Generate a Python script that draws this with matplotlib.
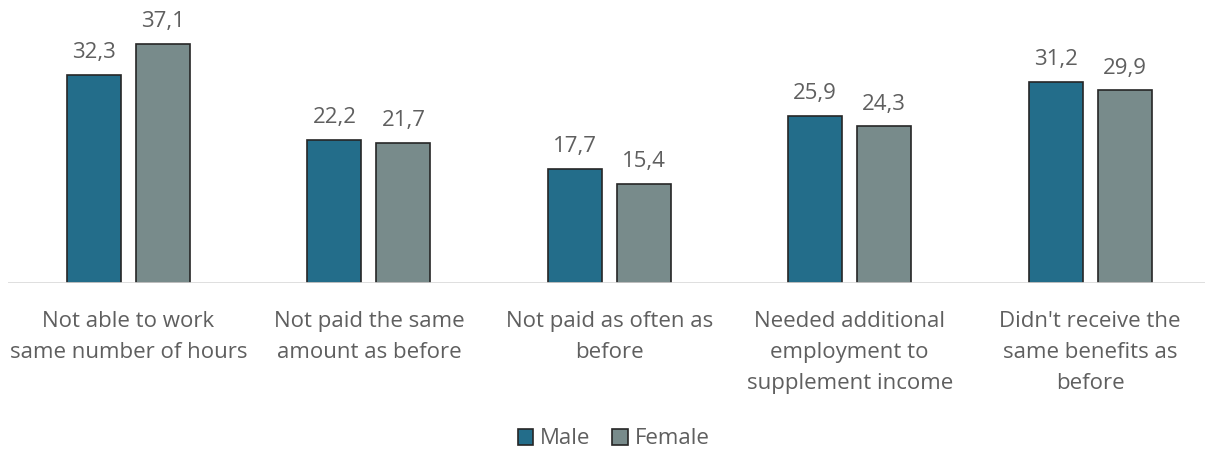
import matplotlib
matplotlib.use("Agg")
import matplotlib.pyplot as plt
import numpy as np

categories = ["Not able to work\nsame number of hours",
              "Not paid the same\namount as before",
              "Not paid as often as\nbefore",
              "Needed additional\nemployment to\nsupplement income",
              "Didn't receive the\nsame benefits as\nbefore"]
male = [32.3, 22.2, 17.7, 25.9, 31.2]
female = [37.1, 21.7, 15.4, 24.3, 29.9]
series_names = ["Male", "Female"]

plt.rcParams['font.family'] = ['Open Sans', 'DejaVu Sans']
txt = '#5f5f5f'
c_male = '#236D8A'
c_female = '#788B8B'

fig = plt.figure(figsize=(12.05, 4.5), dpi=100)
W, H = 1205, 450
ax = fig.add_axes([8.3 / W, (H - 283) / H, 1202 / W, 258 / H])

x = np.arange(len(categories))
bw = 54 / 240.4
gap = 15 / 240.4
off = (bw + gap) / 2
b1 = ax.bar(x - off, male, bw, color=c_male, edgecolor='#262626', linewidth=1.2, label=series_names[0], zorder=3)
b2 = ax.bar(x + off, female, bw, color=c_female, edgecolor='#262626', linewidth=1.2, label=series_names[1], zorder=3)
for bars, vals in ((b1, male), (b2, female)):
    for r, v in zip(bars, vals):
        ax.text(r.get_x() + r.get_width() / 2, v + 1.8, f"{v:.1f}".replace('.', ','),
                ha='center', va='bottom', fontsize=16, color=txt)

ax.set_xlim(-0.5, len(categories) - 0.5)
ax.set_ylim(0, 40)
ax.axhline(0, color='#D9D9D9', linewidth=1.2, zorder=4)
for s in ax.spines.values():
    s.set_visible(False)
ax.set_yticks([])
ax.set_xticks(x)
ax.set_xticklabels(categories, fontsize=16, color=txt, linespacing=1.62)
ax.tick_params(axis='x', length=0, pad=20)

leg = fig.legend(handles=[b1, b2], labels=series_names, loc='center', bbox_to_anchor=(613.5 / W, (H - 439) / H),
                 ncol=2, frameon=False, fontsize=16, handlelength=0.7, handleheight=0.7,
                 handletextpad=0.3, columnspacing=1.0, labelcolor=txt)
fig.savefig('out.png', dpi=100)
